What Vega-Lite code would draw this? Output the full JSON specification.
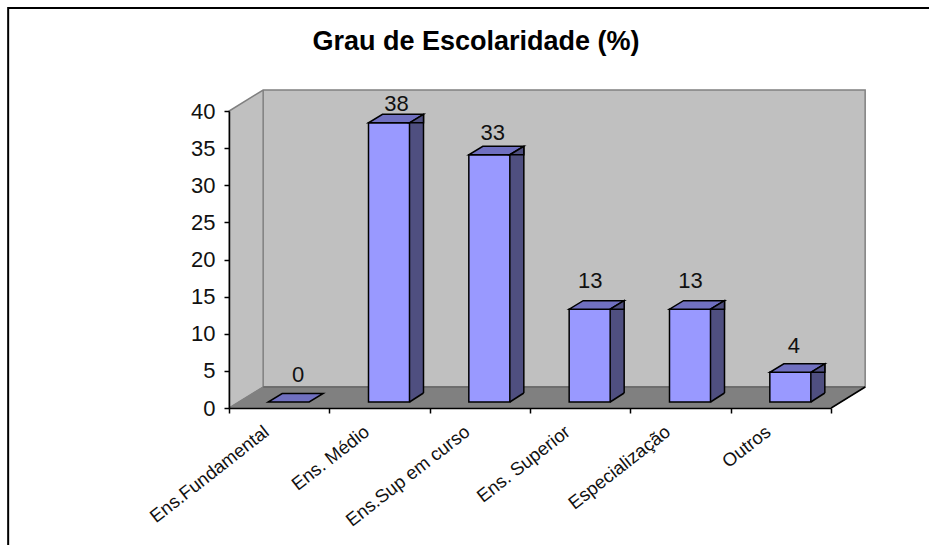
{
"$schema":"https://vega.github.io/schema/vega-lite/v6.json",
"width":602,"height":297,
"autosize":{"type":"none"},
"padding":{"left":229,"top":111,"right":98,"bottom":137},
"background":"white",
"title":{"text":"Grau de Escolaridade (%)","font":"Liberation Sans","fontWeight":"bold","fontSize":27,"color":"black","anchor":"middle","dx":-54,"offset":-52},
"config":{"view":{"stroke":null},"font":"Liberation Sans"},
"data":{"values":[
{"cat":"Ens.Fundamental","v":0,"label":"0"},
{"cat":"Ens. Médio","v":37.6,"label":"38"},
{"cat":"Ens.Sup em curso","v":33.3,"label":"33"},
{"cat":"Ens. Superior","v":12.5,"label":"13"},
{"cat":"Especialização","v":12.5,"label":"13"},
{"cat":"Outros","v":4,"label":"4"}
]},
"encoding":{
"x":{"field":"cat","type":"nominal","title":null,
"scale":{"domain":["Ens.Fundamental","Ens. Médio","Ens.Sup em curso","Ens. Superior","Especialização","Outros"],"paddingInner":0,"paddingOuter":0},
"axis":{"zindex":1,"tickBand":"extent","labelAngle":-38,"labelAlign":"right","labelBaseline":"middle","labelFontSize":18.5,"labelColor":"#111","labelPadding":16,"labelOffset":-13,"labelOverlap":false,"labelLimit":300,"tickSize":5,"tickColor":"black","tickWidth":1.5,"domainColor":"black","domainWidth":1.5,"grid":false}},
"y":{"field":"v","type":"quantitative","title":null,
"scale":{"domain":[0,40],"nice":false},
"axis":{"zindex":1,"values":[0,5,10,15,20,25,30,35,40],"labelFontSize":22,"labelColor":"#111","labelPadding":9,"tickSize":5,"tickColor":"black","tickWidth":1.5,"domainColor":"black","domainWidth":1.5,"grid":false}}
},
"layer":[
{"transform":[{"filter":{"field":"cat","equal":"Ens.Fundamental"}}],
 "mark":{"type":"point","filled":true,"opacity":1,"size":4,"clip":false,"fill":"#c0c0c0","stroke":"#808080","strokeWidth":1.5,"shape":"M-50,0 L-50,-297 L-16,-318 L586,-318 L586,-21 L-16,-21 L-50,0 Z M-16,-318 L-16,-21"},
 "encoding":{"y":{"datum":0}}},
{"transform":[{"filter":{"field":"cat","equal":"Ens.Fundamental"}}],
 "mark":{"type":"point","filled":true,"opacity":1,"size":4,"clip":false,"fill":"#808080","stroke":"#808080","strokeWidth":1,"shape":"M-50,0 L552,0 L586,-21 L-16,-21 Z"},
 "encoding":{"y":{"datum":0}}},
{"transform":[{"filter":{"field":"cat","equal":"Ens.Fundamental"}}],
 "mark":{"type":"point","filled":false,"opacity":1,"size":4,"clip":false,"stroke":"#666666","strokeWidth":1.5,"shape":"M-16,-21 L586,-21"},
 "encoding":{"y":{"datum":0}}},
{"transform":[{"filter":{"field":"cat","equal":"Ens.Fundamental"}}],
 "mark":{"type":"point","filled":false,"opacity":1,"size":4,"clip":false,"stroke":"black","strokeWidth":1.5,"shape":"M552,0 L586,-21"},
 "encoding":{"y":{"datum":0}}},
{"transform":[{"filter":{"field":"cat","equal":"Ens.Fundamental"}}],
 "mark":{"type":"point","filled":false,"opacity":1,"size":4,"clip":false,"stroke":"black","strokeWidth":2,"shape":"M-271,137 L-271,-400 L650,-400"},
 "encoding":{"y":{"datum":0}}},
{"transform":[{"filter":"datum.v>0"}],
 "mark":{"type":"bar","width":14,"xOffset":37,"yOffset":-6,"y2Offset":-15,"fill":"#4f4f80","stroke":null},
 "encoding":{"y2":{"datum":0}}},
{"transform":[{"filter":"datum.v>0"}],
 "mark":{"type":"point","filled":true,"opacity":1,"size":4,"clip":false,"fill":"#4f4f80","strokeWidth":0,"shape":"M30,-15 L44,-15 L30,-6 Z"},
 "encoding":{"y":{"datum":0}}},
{"transform":[{"filter":"datum.v>0"}],
 "mark":{"type":"point","filled":false,"opacity":1,"size":4,"clip":false,"stroke":"black","strokeWidth":1.5,"shape":"M30,-6 L44,-15"},
 "encoding":{"y":{"datum":0}}},
{"transform":[{"filter":"datum.v>0"}],
 "mark":{"type":"rule","color":"black","strokeWidth":1.5,"xOffset":44,"yOffset":-14.5,"y2Offset":-15},
 "encoding":{"y2":{"datum":0}}},
{"transform":[{"filter":"datum.v>0"}],
 "mark":{"type":"bar","width":41,"xOffset":9.5,"yOffset":-6,"y2Offset":-6,"fill":"#9999ff","stroke":"black","strokeWidth":1.5},
 "encoding":{"y2":{"datum":0}}},
{"mark":{"type":"point","filled":true,"opacity":1,"size":4,"clip":false,"fill":"#7070c0","stroke":"black","strokeWidth":1.5,"shape":"M-11,-6 L30,-6 L44,-14.5 L3,-14.5 Z"}},
{"transform":[{"filter":"datum.v>0"}],
 "mark":{"type":"point","filled":true,"opacity":1,"size":4,"clip":false,"fill":"#4f4f80","stroke":"black","strokeWidth":1.5,"shape":"M30,-6 L44,-14.5 L44,-6 Z"}},
{"transform":[{"filter":{"field":"label","equal":"38"}}],"mark":{"type":"text","fontSize":22,"color":"#111","baseline":"middle","dx":17,"dy":-25},"encoding":{"text":{"field":"label"}}},
{"transform":[{"filter":{"field":"label","equal":"33"}}],"mark":{"type":"text","fontSize":22,"color":"#111","baseline":"middle","dx":13,"dy":-28},"encoding":{"text":{"field":"label"}}},
{"transform":[{"filter":{"field":"label","equal":"13"}}],"mark":{"type":"text","fontSize":22,"color":"#111","baseline":"middle","dx":10,"dy":-34},"encoding":{"text":{"field":"label"}}},
{"transform":[{"filter":{"field":"label","equal":"4"}}],"mark":{"type":"text","fontSize":22,"color":"#111","baseline":"middle","dx":13,"dy":-32},"encoding":{"text":{"field":"label"}}},
{"transform":[{"filter":{"field":"label","equal":"0"}}],"mark":{"type":"text","fontSize":22,"color":"#111","baseline":"middle","dx":19,"dy":-33},"encoding":{"text":{"field":"label"}}}
]
}
